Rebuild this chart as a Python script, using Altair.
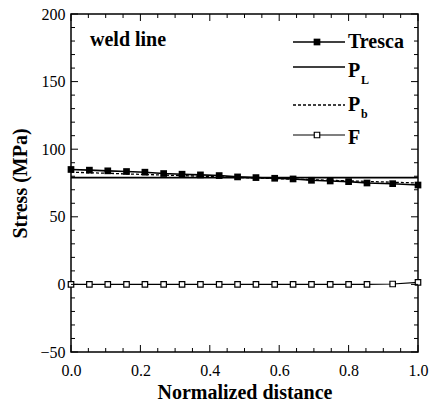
import altair as alt
import pandas as pd

# ---- data ----
x_pos = [0.0, 0.053, 0.106, 0.160, 0.213, 0.267, 0.320, 0.373, 0.427, 0.480,
         0.533, 0.587, 0.640, 0.693, 0.747, 0.800, 0.853, 0.927, 1.0]
tresca = [85.0, 84.5, 84.0, 83.5, 83.0, 82.0, 81.5, 81.0, 80.5, 79.5,
          79.0, 78.5, 78.0, 77.0, 76.5, 76.0, 75.0, 74.5, 73.5]
f_vals = [0.0, 0.0, 0.0, 0.0, 0.0, 0.0, 0.0, 0.0, 0.0, 0.0,
          0.0, 0.0, 0.0, 0.0, 0.0, 0.0, 0.0, 0.3, 1.5]
pl_x = [0.0, 1.0]
pl_vals = [79.0, 79.0]
pb_x = [0.0, 1.0]
pb_vals = [83.0, 75.0]

x_major = [0.0, 0.2, 0.4, 0.6, 0.8, 1.0]
x_minor = [0.05, 0.1, 0.15, 0.25, 0.3, 0.35, 0.45, 0.5, 0.55, 0.65, 0.7, 0.75, 0.85, 0.9, 0.95]
y_major = [-50, 0, 50, 100, 150, 200]
y_minor = [-40, -30, -20, -10, 10, 20, 30, 40, 60, 70, 80, 90,
           110, 120, 130, 140, 160, 170, 180, 190]

legend_names = ["Tresca", "P", "P", "F"]
legend_subs = ["L", "b"]

FONT = "Liberation Serif"
W, H = 347, 338

xs = alt.Scale(domain=[0, 1], nice=False, zero=False)
ys = alt.Scale(domain=[-50, 200], nice=False, zero=False)

x_axis = alt.Axis(values=x_major, format=".1f", title="Normalized distance",
                  ticks=False, domain=False, grid=False, labelFont=FONT,
                  labelFontSize=16, labelColor="black", labelPadding=10,
                  labelFlush=False, labelOverlap=False,
                  titleFont=FONT, titleFontSize=20, titleFontWeight="bold",
                  titleColor="black", titlePadding=4)
y_axis = alt.Axis(values=y_major, format="d", title="Stress (MPa)",
                  ticks=False, domain=False, grid=False, labelFont=FONT,
                  labelFontSize=16, labelColor="black", labelPadding=6,
                  labelFlush=False, labelOverlap=False,
                  titleFont=FONT, titleFontSize=20, titleFontWeight="bold",
                  titleColor="black", titlePadding=9)


def X(f):
    return alt.X(f"{f}:Q", scale=xs, axis=x_axis)


def Y(f):
    return alt.Y(f"{f}:Q", scale=ys, axis=y_axis)


df = pd.DataFrame({"x": x_pos, "tresca": tresca, "F": f_vals})
base = alt.Chart(df)

tresca_line = base.mark_line(color="black", strokeWidth=1.6).encode(x=X("x"), y=Y("tresca"))
tresca_pts = base.mark_square(color="black", size=45, opacity=1).encode(x=X("x"), y=Y("tresca"))
f_line = base.mark_line(color="black", strokeWidth=1.2).encode(x=X("x"), y=Y("F"))
f_pts = base.mark_square(filled=True, fill="white", stroke="black", strokeWidth=1.2,
                         size=30, opacity=1).encode(x=X("x"), y=Y("F"))

pl_line = alt.Chart(pd.DataFrame({"x": pl_x, "v": pl_vals})).mark_line(
    color="black", strokeWidth=1.6).encode(x=X("x"), y=Y("v"))
pb_line = alt.Chart(pd.DataFrame({"x": pb_x, "v": pb_vals})).mark_line(
    color="black", strokeWidth=1.3, strokeDash=[3, 2]).encode(x=X("x"), y=Y("v"))

# inward ticks on all four sides
xmaj = alt.Chart(pd.DataFrame({"t": x_major}))
xmin = alt.Chart(pd.DataFrame({"t": x_minor}))
ymaj = alt.Chart(pd.DataFrame({"t": y_major}))
ymin = alt.Chart(pd.DataFrame({"t": y_minor}))
tick_style = dict(color="black", strokeWidth=1)
ticks = [
    xmaj.mark_rule(**tick_style).encode(x=X("t"), y=alt.value(H), y2=alt.value(H - 7)),
    xmin.mark_rule(**tick_style).encode(x=X("t"), y=alt.value(H), y2=alt.value(H - 4)),
    xmaj.mark_rule(**tick_style).encode(x=X("t"), y=alt.value(0), y2=alt.value(7)),
    xmin.mark_rule(**tick_style).encode(x=X("t"), y=alt.value(0), y2=alt.value(4)),
    ymaj.mark_rule(**tick_style).encode(y=Y("t"), x=alt.value(0), x2=alt.value(7)),
    ymin.mark_rule(**tick_style).encode(y=Y("t"), x=alt.value(0), x2=alt.value(4)),
    ymaj.mark_rule(**tick_style).encode(y=Y("t"), x=alt.value(W), x2=alt.value(W - 7)),
    ymin.mark_rule(**tick_style).encode(y=Y("t"), x=alt.value(W), x2=alt.value(W - 4)),
]

# manual legend and annotation
one = alt.Chart(pd.DataFrame({"a": [0]}))
LX0, LX1, TX = 222, 274, 277
rows = [28, 53, 91, 121]
txt = dict(font=FONT, fontSize=20, fontWeight="bold", color="black",
           align="left", baseline="middle")
sub = dict(font=FONT, fontSize=12, fontWeight="bold", color="black",
           align="left", baseline="middle")
legend = [
    one.mark_rule(color="black", strokeWidth=1.4).encode(
        x=alt.value(LX0), x2=alt.value(LX1), y=alt.value(rows[0])),
    one.mark_square(color="black", size=45, opacity=1).encode(
        x=alt.value(246), y=alt.value(rows[0])),
    one.mark_text(**txt).encode(x=alt.value(TX), y=alt.value(rows[0]), text=alt.value(legend_names[0])),
    one.mark_rule(color="black", strokeWidth=1.4).encode(
        x=alt.value(LX0), x2=alt.value(LX1), y=alt.value(rows[1])),
    one.mark_text(**txt).encode(x=alt.value(TX), y=alt.value(rows[1] + 4), text=alt.value(legend_names[1])),
    one.mark_text(**sub).encode(x=alt.value(TX + 13), y=alt.value(rows[1] + 13),
                                text=alt.value(legend_subs[0])),
    one.mark_rule(color="black", strokeWidth=1.3, strokeDash=[3, 2]).encode(
        x=alt.value(LX0), x2=alt.value(LX1), y=alt.value(rows[2])),
    one.mark_text(**txt).encode(x=alt.value(TX), y=alt.value(rows[2]), text=alt.value(legend_names[2])),
    one.mark_text(**sub).encode(x=alt.value(TX + 13), y=alt.value(rows[2] + 9),
                                text=alt.value(legend_subs[1])),
    one.mark_rule(color="black", strokeWidth=1.2).encode(
        x=alt.value(LX0), x2=alt.value(LX1), y=alt.value(rows[3])),
    one.mark_square(filled=True, fill="white", stroke="black", strokeWidth=1.2, size=30,
                    opacity=1).encode(x=alt.value(246), y=alt.value(rows[3])),
    one.mark_text(**txt).encode(x=alt.value(TX), y=alt.value(rows[3] + 3), text=alt.value(legend_names[3])),
    one.mark_text(**txt).encode(x=alt.value(19), y=alt.value(26), text=alt.value("weld line")),
]

chart = alt.layer(
    tresca_line, pl_line, pb_line, f_line, tresca_pts, f_pts, *ticks, *legend
).properties(
    width=W, height=H,
    autosize=alt.AutoSizeParams(type="none"),
    padding={"left": 71, "top": 14, "right": 13, "bottom": 52},
    background="white",
).configure_view(stroke="black", strokeWidth=1.5)

chart.save("out.html", embed_options={"renderer": "svg", "actions": False})
